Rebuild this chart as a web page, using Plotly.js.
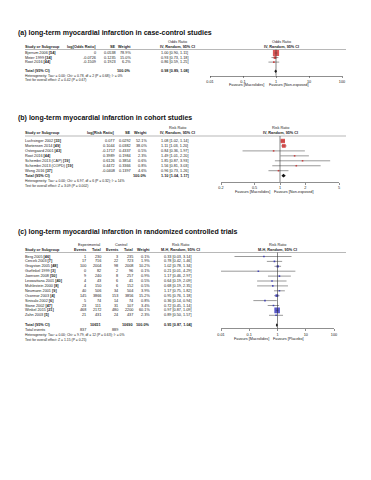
<!DOCTYPE html>
<html><head><meta charset="utf-8">
<script src="https://cdn.plot.ly/plotly-3.0.1.min.js"></script>
<style>html,body{margin:0;padding:0;background:#fff}#chart{width:371px;height:480px}</style>
</head><body><div id="chart"></div>
<script>
// ---------- DATA (a) case-control ----------
const aStudies = ["Bjerrum 2006","Meier 1999","Root 2016"];
const aRefs = ["[54]","[34]","[44]"];
const aLogOR = ["0","-0.0726","-0.1509"];
const aSE = ["0.0538","0.1235","0.1923"];
const aWeight = [78.9,15.0,6.2];
const aEst = [1.00,0.93,0.86];
const aLo = [0.90,0.73,0.59];
const aHi = [1.11,1.18,1.25];
const aTotal = [0.98,0.89,1.08];
const aHet = "Heterogeneity: Tau² = 0.00; Chi² = 0.78, df = 2 (P = 0.68); I² = 0%";
const aTest = "Test for overall effect: Z = 0.42 (P = 0.67)";
const aTicks = [0.01,0.1,1,10,100];
const aTickText = ["0.01","0.1","1","10","100"];
const aFav = ["Favours [Macrolides]","Favours [Non-exposed]"];

// ---------- DATA (b) cohort ----------
const bStudies = ["Luchsinger 2002","Mortensen 2014","Ostergaard 2001","Root 2016","Schembri 2013 (CAP)","Schembri 2013 (COPD)","Wong 2016"];
const bRefs = ["[33]","[49]","[43]","[44]","[19]","[19]","[37]"];
const bLogRR = ["0.077","0.1044","-0.1717","0.3989","0.6126","0.4472","-0.0408"];
const bSE = ["0.0292","0.0382","0.4337","0.1984","0.3854","0.3366","0.1397"];
const bWeight = [52.1,38.0,0.5,2.3,0.6,0.8,4.6];
const bEst = [1.08,1.11,0.84,1.49,1.85,1.56,0.96];
const bLo = [1.02,1.03,0.36,1.01,0.87,0.81,0.73];
const bHi = [1.14,1.20,1.97,2.20,3.93,3.03,1.26];
const bTotal = [1.10,1.04,1.17];
const bHet = "Heterogeneity: Tau² = 0.00; Chi² = 6.97, df = 6 (P = 0.32); I² = 14%";
const bTest = "Test for overall effect: Z = 3.09 (P = 0.002)";
const bTicks = [0.2,0.5,1,2,5];
const bTickText = ["0.2","0.5","1","2","5"];
const bFav = ["Favours [Macrolides]","Favours [Non-exposed]"];

// ---------- DATA (c) RCTs ----------
const cStudies = ["Berg 2005","Cercek 2003","Grayston 2005","Gurfinkel 1999","Joensen 2008","Leowattana 2001","Muhlestein 2000","Neumann 2001","Oconnor 2003","Sinisalo 2002","Stone 2002","Winkel 2015","Zahn 2003"];
const cRefs = ["[46]","[7]","[48]","[3]","[50]","[40]","[8]","[9]","[4]","[6]","[47]","[21]","[5]"];
const cExpEvents = [1,17,100,0,9,4,4,40,145,5,23,468,21];
const cExpTotal = [230,716,2004,82,240,43,150,506,3866,74,111,2172,431];
const cCtlEvents = [3,22,98,2,8,6,6,34,153,14,31,480,24];
const cCtlTotal = [235,723,2008,96,257,41,152,504,3856,74,107,2200,437];
const cWeight = [0.1,1.9,10.2,0.1,0.9,0.5,0.5,3.9,15.2,0.8,3.4,60.1,2.3];
const cEst = [0.33,0.78,1.02,0.21,1.17,0.64,0.68,1.17,0.95,0.36,0.72,0.97,0.89];
const cLo = [0.03,0.42,0.78,0.01,0.46,0.19,0.19,0.75,0.76,0.14,0.45,0.87,0.50];
const cHi = [3.14,1.46,1.34,4.29,2.97,2.09,2.35,1.82,1.18,0.94,1.14,1.09,1.57];
const cTotalN = [10651,10690];
const cTotalEvents = [837,889];
const cTotal = [0.95,0.87,1.04];
const cHet = "Heterogeneity: Tau² = 0.00; Chi² = 9.79, df = 12 (P = 0.63); I² = 0%";
const cTest = "Test for overall effect: Z = 1.15 (P = 0.25)";
const cTicks = [0.01,0.1,1,10,100];
const cTickText = ["0.01","0.1","1","10","100"];
const cFav = ["Favours [Macrolides]","Favours [Placebo]"];

// ---------- LAYOUT PARAMETERS ----------
const W=371,H=480;
const FONT='"Liberation Sans", Arial, sans-serif';
const FS=3.8, FS2=3.4, TXT='#222';
const RED='#cc1111', BLUE='#1616b4';
const fmt = (e,l,h)=> e.toFixed(2)+' ['+l.toFixed(2)+', '+h.toFixed(2)+']';

const panels = [
 {title:'(a) long-term myocardial infarction in case-control studies', titleY:33,
  h1:42, h2:46.5, lineY:49.5, y0:53, dy:4.55, axisRow:5.0, totalRow:4, favY:84.5,
  px0:210, px1:342, rng:[0.01,100], color:RED, maxW:78.9, maxS:6.2,
  ticks:aTicks, tickText:aTickText, fav:aFav, favL:12, favR:7},
 {title:'(b) long-term myocardial infarction in cohort studies', titleY:118,
  h1:128, h2:132.5, lineY:136, y0:141, dy:4.95, axisRow:8.3, totalRow:7, favY:191.5,
  px0:221, px1:339, rng:[0.2,5], color:RED, maxW:52.1, maxS:4.4,
  ticks:bTicks, tickText:bTickText, fav:bFav, favL:10, favR:6},
 {title:'(c) long-term myocardial infarction in randomized controlled trials', titleY:232,
  h1:245, h2:249.5, lineY:252.5, y0:256.5, dy:4.9, axisRow:14.7, totalRow:14, favY:338.5,
  px0:221, px1:334, rng:[0.01,100], color:BLUE, maxW:60.1, maxS:5.6,
  ticks:cTicks, tickText:cTickText, fav:cFav, favL:9, favR:5}
];

const annotations=[], shapes=[], traces=[];
const layout = {width:W,height:H,margin:{l:0,r:0,t:0,b:0},paper_bgcolor:'#fff',plot_bgcolor:'rgba(0,0,0,0)',
  showlegend:false, font:{family:FONT,size:FS,color:TXT}};

function T(xp, yp, text, anchor, opts){
  opts = opts||{};
  annotations.push({xref:'paper',yref:'paper',x:xp/W,y:1-yp/H,xanchor:anchor,yanchor:'middle',
    text:text,showarrow:false,borderpad:0,borderwidth:0,
    font:{family:opts.family||FONT,size:opts.size||FS,color:opts.color||TXT}});
}
const B = s=>'<b>'+s+'</b>';
const nameRef = (n,r)=> n+' <b>'+r+'</b>';

panels.forEach((p,k)=>{
  const ax = k===0?'':String(k+1);
  const rowY = i=> p.y0 + i*p.dy;
  const axisY = rowY(p.axisRow);
  layout['xaxis'+ax] = {type:'log', domain:[p.px0/W,p.px1/W], anchor:'y'+ax,
    range:[Math.log10(p.rng[0]),Math.log10(p.rng[1])], showgrid:false, zeroline:false,
    showline:true, linecolor:'#444', linewidth:0.6, ticks:'outside', ticklen:2, tickwidth:0.6, tickcolor:'#444',
    tickmode:'array', tickvals:p.ticks, ticktext:p.tickText,
    tickfont:{family:FONT,size:FS,color:TXT}, fixedrange:true};
  layout['yaxis'+ax] = {domain:[1-axisY/H, 1-p.lineY/H], anchor:'x'+ax, visible:false,
    range:[(axisY-p.y0)/p.dy, (p.lineY-p.y0)/p.dy], fixedrange:true};
  T(18, p.titleY, B(p.title), 'left', {size:7.0, color:'#111'});
  shapes.push({type:'line',xref:'paper',yref:'paper',x0:25/W,x1:346/W,y0:1-p.lineY/H,y1:1-p.lineY/H,line:{color:'#888',width:0.6}});
  shapes.push({type:'line',xref:'x'+ax,yref:'y'+ax+' domain',x0:1,x1:1,y0:0,y1:1,line:{color:'#333',width:0.6}});
  const cen = p.px0 + (p.px1-p.px0)*(0-Math.log(p.rng[0]))/(Math.log(p.rng[1])-Math.log(p.rng[0]));
  T(cen-p.favL, p.favY, p.fav[0], 'right');
  T(cen-p.favR, p.favY, p.fav[1], 'left');
});

// ---------- Panel (a) text ----------
(function(){
  const p=panels[0]; const rowY=i=>p.y0+i*p.dy;
  const cols={name:25, est:96, se:116, w:131, ci:161, ciC:177, plotC:281};
  T(cols.ciC,p.h1,'Odds Ratio','center'); T(cols.plotC,p.h1,'Odds Ratio','center');
  T(cols.name,p.h2,B('Study or Subgroup'),'left'); T(cols.est,p.h2,B('log[Odds Ratio]'),'right');
  T(cols.se,p.h2,B('SE'),'right'); T(cols.w,p.h2,B('Weight'),'right');
  T(cols.ciC,p.h2,B('IV, Random, 95% CI'),'center'); T(cols.plotC,p.h2,B('IV, Random, 95% CI'),'center');
  aStudies.forEach((s,i)=>{
    const y=rowY(i);
    T(cols.name,y,nameRef(s,aRefs[i]),'left'); T(cols.est,y,aLogOR[i],'right');
    T(cols.se,y,aSE[i],'right'); T(cols.w,y,aWeight[i].toFixed(1)+'%','right');
    T(cols.ci,y,fmt(aEst[i],aLo[i],aHi[i]),'left');
  });
  const t=p.totalRow;
  T(cols.name,rowY(t),B('Total (95% CI)'),'left'); T(cols.w,rowY(t),B('100.0%'),'right');
  T(cols.ci,rowY(t),B(fmt(aTotal[0],aTotal[1],aTotal[2])),'left');
  T(cols.name,rowY(t+1),aHet,'left',{size:FS2}); T(cols.name,rowY(t+2),aTest,'left',{size:FS2});
})();

// ---------- Panel (b) text ----------
(function(){
  const p=panels[1]; const rowY=i=>p.y0+i*p.dy;
  const cols={name:25, est:115, se:131, w:147, ci:161, ciC:177, plotC:280};
  T(cols.ciC,p.h1,'Risk Ratio','center'); T(cols.plotC,p.h1,'Risk Ratio','center');
  T(cols.name,p.h2,B('Study or Subgroup'),'left'); T(cols.est,p.h2,B('log[Risk Ratio]'),'right');
  T(cols.se,p.h2,B('SE'),'right'); T(cols.w,p.h2,B('Weight'),'right');
  T(cols.ciC,p.h2,B('IV, Random, 95% CI'),'center'); T(cols.plotC,p.h2,B('IV, Random, 95% CI'),'center');
  bStudies.forEach((s,i)=>{
    const y=rowY(i);
    T(cols.name,y,nameRef(s,bRefs[i]),'left'); T(cols.est,y,bLogRR[i],'right');
    T(cols.se,y,bSE[i],'right'); T(cols.w,y,bWeight[i].toFixed(1)+'%','right');
    T(cols.ci,y,fmt(bEst[i],bLo[i],bHi[i]),'left');
  });
  const t=p.totalRow;
  T(cols.name,rowY(t),B('Total (95% CI)'),'left'); T(cols.w,rowY(t),B('100.0%'),'right');
  T(cols.ci,rowY(t),B(fmt(bTotal[0],bTotal[1],bTotal[2])),'left');
  T(cols.name,rowY(t+1),bHet,'left',{size:FS2}); T(cols.name,rowY(t+2),bTest,'left',{size:FS2});
})();

// ---------- Panel (c) text ----------
(function(){
  const p=panels[2]; const rowY=i=>p.y0+i*p.dy;
  const cols={name:25, ee:86, et:101, ce:118, ct:133, w:150, ci:164, ciC:180, plotC:277};
  T((cols.ee+cols.et)/2-5,p.h1,'Experimental','center'); T((cols.ce+cols.ct)/2-5,p.h1,'Control','center');
  T(cols.ciC,p.h1,'Risk Ratio','center'); T(cols.plotC,p.h1,'Risk Ratio','center');
  T(cols.name,p.h2,B('Study or Subgroup'),'left');
  T(cols.ee,p.h2,B('Events'),'right'); T(cols.et,p.h2,B('Total'),'right');
  T(cols.ce,p.h2,B('Events'),'right'); T(cols.ct,p.h2,B('Total'),'right');
  T(cols.w,p.h2,B('Weight'),'right');
  T(cols.ciC,p.h2,B('M-H, Random, 95% CI'),'center'); T(cols.plotC,p.h2,B('M-H, Random, 95% CI'),'center');
  cStudies.forEach((s,i)=>{
    const y=rowY(i);
    T(cols.name,y,nameRef(s,cRefs[i]),'left');
    T(cols.ee,y,String(cExpEvents[i]),'right'); T(cols.et,y,String(cExpTotal[i]),'right');
    T(cols.ce,y,String(cCtlEvents[i]),'right'); T(cols.ct,y,String(cCtlTotal[i]),'right');
    T(cols.w,y,cWeight[i].toFixed(1)+'%','right');
    T(cols.ci,y,fmt(cEst[i],cLo[i],cHi[i]),'left');
  });
  const t=p.totalRow;
  T(cols.name,rowY(t),B('Total (95% CI)'),'left');
  T(cols.et,rowY(t),B(String(cTotalN[0])),'right'); T(cols.ct,rowY(t),B(String(cTotalN[1])),'right');
  T(cols.w,rowY(t),B('100.0%'),'right');
  T(cols.ci,rowY(t),B(fmt(cTotal[0],cTotal[1],cTotal[2])),'left');
  T(cols.name,rowY(t+1),'Total events','left');
  T(cols.ee,rowY(t+1),String(cTotalEvents[0]),'right'); T(cols.ce,rowY(t+1),String(cTotalEvents[1]),'right');
  T(cols.name,rowY(t+2),cHet,'left',{size:FS2}); T(cols.name,rowY(t+3),cTest,'left',{size:FS2});
})();

// ---------- Forest traces ----------
function forest(k, est, lo, hi, wt, tot){
  const p=panels[k]; const ax = k===0?'':String(k+1);
  const rows = est.map((_,i)=>i);
  traces.push({type:'scatter',mode:'markers',x:est,y:rows,xaxis:'x'+ax,yaxis:'y'+ax,
    error_x:{type:'data',symmetric:false,array:hi.map((h,i)=>h-est[i]),arrayminus:lo.map((l,i)=>est[i]-l),
      width:0,thickness:0.6,color:'#555'},
    marker:{symbol:'square',color:p.color,size:wt.map(w=>Math.max(1.6,p.maxS*Math.sqrt(w/p.maxW))),line:{width:0}},
    hoverinfo:'skip'});
  const t=p.totalRow, hh=0.38;
  traces.push({type:'scatter',mode:'lines',x:[tot[1],tot[0],tot[2],tot[0],tot[1]],y:[t,t-hh,t,t+hh,t],
    xaxis:'x'+ax,yaxis:'y'+ax,fill:'toself',fillcolor:'#111',line:{width:0,color:'#111'},hoverinfo:'skip'});
}
forest(0,aEst,aLo,aHi,aWeight,aTotal);
forest(1,bEst,bLo,bHi,bWeight,bTotal);
forest(2,cEst,cLo,cHi,cWeight,cTotal);

layout.annotations=annotations; layout.shapes=shapes;
Plotly.newPlot('chart',traces,layout,{staticPlot:true,displayModeBar:false});
</script></body></html>
